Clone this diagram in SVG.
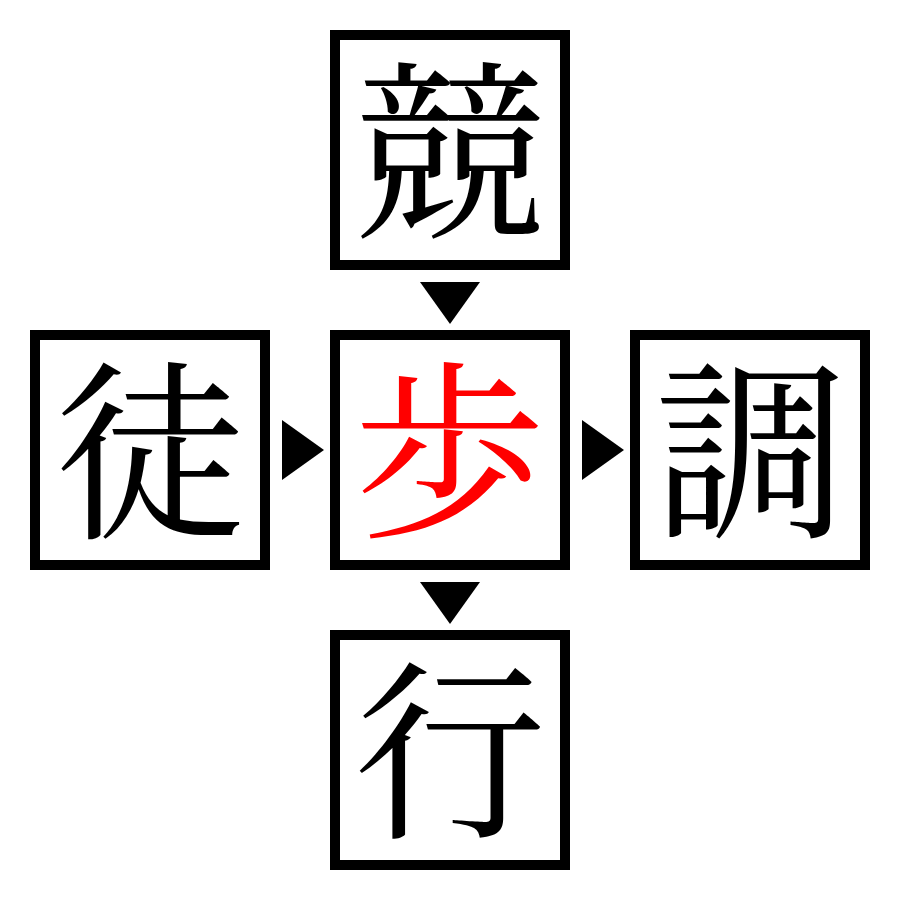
<svg xmlns="http://www.w3.org/2000/svg" width="900" height="900" viewBox="0 0 900 900">
<style>
.box{fill:#fff;stroke:#000;stroke-width:10}
.ch{font-family:"Noto Serif CJK JP","Noto Sans CJK JP",serif;font-size:192px;text-anchor:middle;dominant-baseline:central;fill:#000}
.red{fill:#f00}
.arr{fill:#000}
</style>
<rect width="900" height="900" fill="#fff"/>
<g id="connectors">
<polygon class="arr" points="420,282 480,282 450,324"/>
<polygon class="arr" points="282,420 282,480 324,450"/>
<polygon class="arr" points="582,420 582,480 624,450"/>
<polygon class="arr" points="420,582 480,582 450,624"/>
</g>
<g id="node-top"><rect class="box" x="335" y="35" width="230" height="230"/><text class="ch" x="450" y="140">競</text></g>
<g id="node-left"><rect class="box" x="35" y="335" width="230" height="230"/><text class="ch" x="150" y="440">徒</text></g>
<g id="node-center"><rect class="box" x="335" y="335" width="230" height="230"/><text class="ch red" x="450" y="440">歩</text></g>
<g id="node-right"><rect class="box" x="635" y="335" width="230" height="230"/><text class="ch" x="750" y="440">調</text></g>
<g id="node-bottom"><rect class="box" x="335" y="635" width="230" height="230"/><text class="ch" x="450" y="740">行</text></g>
</svg>
